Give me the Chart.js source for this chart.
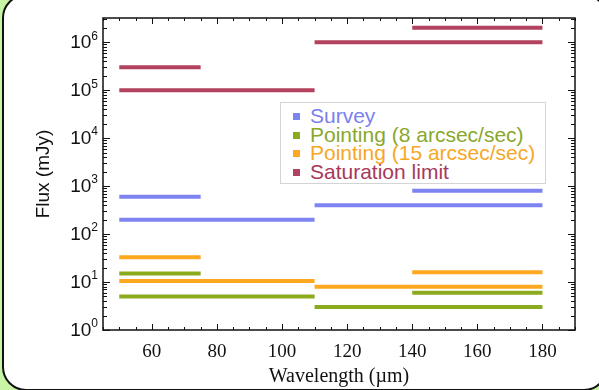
<!DOCTYPE html>
<html>
<head>
<meta charset="utf-8">
<script src="https://cdn.jsdelivr.net/npm/chart.js@4.4.1/dist/chart.umd.min.js"></script>
<style>
  html, body { margin: 0; padding: 0; }
  body { width: 599px; height: 390px; background: #c8f4a6; position: relative; overflow: hidden; }
  .frame { position: absolute; left: 2px; top: -6px; width: 602px; height: 393px; border: 2px solid #111; border-radius: 24px; background: #fff; }
  #fluxChart { position: absolute; left: 0; top: 0; }
  .legend { position: absolute; left: 280px; top: 102px; width: 266px; height: 82px; border: 1px solid #d4d4d4; background: #fff; padding-top: 4px; box-sizing: border-box;
    font-family: "Liberation Sans", Arial, sans-serif; font-size: 21px; line-height: 18.5px; }
  .legend div { white-space: nowrap; padding-left: 12px; }
  .legend span.box { display: inline-block; width: 7px; height: 7px; margin-right: 10px; vertical-align: 3px; }
</style>
</head>
<body>
<div class="frame"></div>
<canvas id="fluxChart" width="599" height="390"></canvas>
<div class="legend" id="legend"></div>

<script>
  // wavelength bands (um) shared by every series
  var bandStart = [50, 50, 110, 140];
  var bandEnd = [75, 110, 180, 180];

  // flux per band (mJy)
  var surveyFlux = [600, 200, 400, 800];
  var point8Flux = [15, 5, 3, 6];
  var point15Flux = [33, 10.5, 8, 16];
  var saturationFlux = [3e5, 1e5, 1e6, 2e6];

  var seriesNames = ['Survey', 'Pointing (8 arcsec/sec)', 'Pointing (15 arcsec/sec)', 'Saturation limit'];
  var seriesColors = ['#7d84f2', '#8cab1c', '#fda81f', '#b3425e'];
  var textColors = ['#7b80ee', '#89a82a', '#f6a728', '#a8385a'];

  var xTicks = [60, 80, 100, 120, 140, 160, 180];
  var yDecades = [0, 1, 2, 3, 4, 5, 6];

  function toSegments(flux) {
    var pts = [];
    for (var i = 0; i < flux.length; i++) {
      pts.push({ x: bandStart[i], y: flux[i] });
      pts.push({ x: bandEnd[i], y: flux[i] });
      pts.push({ x: bandEnd[i], y: null });
    }
    return pts;
  }

  var allFlux = [surveyFlux, point8Flux, point15Flux, saturationFlux];
  var datasets = allFlux.map(function(f, i) {
    return {
      label: seriesNames[i],
      data: toSegments(f),
      borderColor: seriesColors[i],
      backgroundColor: seriesColors[i],
      borderWidth: 4,
      borderCapStyle: 'butt',
      pointRadius: 0,
      spanGaps: false
    };
  });

  var frameTicks = {
    id: 'frameTicks',
    afterDraw: function(chart) {
      var ctx = chart.ctx, a = chart.chartArea;
      var xs = chart.scales.x, ys = chart.scales.y;
      ctx.save();
      ctx.strokeStyle = '#111';
      ctx.lineWidth = 1.5;
      ctx.strokeRect(a.left, a.top, a.right - a.left, a.bottom - a.top);
      ctx.lineWidth = 1;
      ctx.beginPath();
      for (var v = 45; v <= 190; v += 5) {
        var px = Math.round(xs.getPixelForValue(v)) + 0.5;
        var len = (v % 20 === 0) ? 6 : 3;
        ctx.moveTo(px, a.bottom); ctx.lineTo(px, a.bottom - len);
        ctx.moveTo(px, a.top); ctx.lineTo(px, a.top + len);
      }
      for (var e = 0; e <= 6; e++) {
        for (var m = 1; m <= 9; m++) {
          var val = m * Math.pow(10, e);
          if (val > ys.max) break;
          var py = Math.round(ys.getPixelForValue(val)) + 0.5;
          var l = (m === 1) ? 7 : 4;
          ctx.moveTo(a.left, py); ctx.lineTo(a.left + l, py);
          ctx.moveTo(a.right, py); ctx.lineTo(a.right - l, py);
        }
      }
      ctx.stroke();

      // decade labels 10^n
      ctx.fillStyle = '#111';
      ctx.textBaseline = 'middle';
      yDecades.forEach(function(d) {
        var py = ys.getPixelForValue(Math.pow(10, d));
        ctx.font = '12px "Liberation Sans", Arial, sans-serif';
        var ew = ctx.measureText(String(d)).width;
        var right = a.left - 5;
        ctx.textAlign = 'left';
        ctx.fillText(String(d), right - ew, py - 6);
        ctx.textAlign = 'right';
        ctx.font = '19px "Liberation Sans", Arial, sans-serif';
        ctx.fillText('10', right - ew, py + 1);
      });
      ctx.restore();
    }
  };

  var ctx = document.getElementById('fluxChart').getContext('2d');
  var chart = new Chart(ctx, {
    type: 'line',
    data: { datasets: datasets },
    options: {
      responsive: false,
      animation: false,
      layout: { padding: { top: 18, right: 24, left: 0, bottom: 0 } },
      plugins: { legend: { display: false }, tooltip: { enabled: false } },
      scales: {
        x: {
          type: 'linear',
          min: 45,
          max: 190,
          afterBuildTicks: function(scale) {
            scale.ticks = xTicks.map(function(v) { return { value: v }; });
          },
          afterFit: function(scale) { scale.height = 60; },
          grid: { display: false, drawTicks: false },
          border: { display: false },
          ticks: {
            autoSkip: false,
            maxRotation: 0,
            padding: 11,
            color: '#111',
            font: { family: '"Liberation Serif", "Times New Roman", serif', size: 19 }
          },
          title: {
            display: true,
            text: 'Wavelength (\u00b5m)',
            color: '#111',
            padding: { top: 0, bottom: 1 },
            font: { family: '"Liberation Serif", "Times New Roman", serif', size: 20 }
          }
        },
        y: {
          type: 'logarithmic',
          min: 1,
          max: 3.2e6,
          afterFit: function(scale) { scale.width = 103; },
          grid: { display: false, drawTicks: false },
          border: { display: false },
          ticks: { display: false },
          title: {
            display: true,
            text: 'Flux (mJy)',
            color: '#111',
            padding: { top: 32, bottom: 0 },
            font: { family: '"Liberation Sans", Arial, sans-serif', size: 19 }
          }
        }
      }
    },
    plugins: [frameTicks]
  });

  var legendEl = document.getElementById('legend');
  seriesNames.forEach(function(name, i) {
    legendEl.insertAdjacentHTML('beforeend',
      '<div style="color:' + textColors[i] + ';"><span class="box" style="background:' + seriesColors[i] + ';"></span>' + name + '</div>');
  });
</script>
</body>
</html>
